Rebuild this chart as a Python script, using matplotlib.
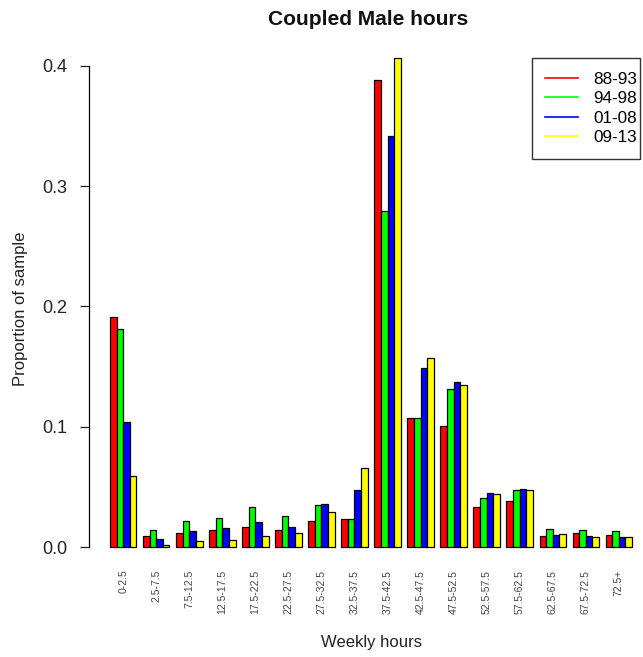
import matplotlib
matplotlib.use("Agg")
import matplotlib.pyplot as plt
from matplotlib.lines import Line2D
from matplotlib.patches import Rectangle
import numpy as np

plt.rcParams['font.family'] = ['Liberation Sans', 'DejaVu Sans']

categories = ["0-2.5", "2.5-7.5", "7.5-12.5", "12.5-17.5", "17.5-22.5",
              "22.5-27.5", "27.5-32.5", "32.5-37.5", "37.5-42.5", "42.5-47.5",
              "47.5-52.5", "52.5-57.5", "57.5-62.5", "62.5-67.5", "67.5-72.5",
              "72.5+"]

series_names = ["88-93", "94-98", "01-08", "09-13"]

p_88_93 = [0.191, 0.009, 0.012, 0.014, 0.017, 0.014, 0.022, 0.023,
           0.388, 0.107, 0.101, 0.033, 0.038, 0.009, 0.012, 0.010]
p_94_98 = [0.181, 0.014, 0.022, 0.024, 0.033, 0.026, 0.035, 0.023,
           0.279, 0.107, 0.131, 0.041, 0.047, 0.015, 0.014, 0.013]
p_01_08 = [0.104, 0.007, 0.013, 0.016, 0.021, 0.017, 0.036, 0.047,
           0.342, 0.149, 0.137, 0.045, 0.048, 0.010, 0.009, 0.008]
p_09_13 = [0.059, 0.002, 0.005, 0.006, 0.009, 0.012, 0.029, 0.066,
           0.407, 0.157, 0.135, 0.044, 0.047, 0.011, 0.008, 0.008]

series = [p_88_93, p_94_98, p_01_08, p_09_13]
colors = ["#FF0000", "#00FF00", "#0000FF", "#FFFF00"]

W, H = 643, 657
fig = plt.figure(figsize=(W / 100, H / 100), dpi=100)
ax = fig.add_axes([0.1386, 0.1376, 0.8768, 0.8046])

n_groups = len(categories)
n_series = len(series)
group_step = n_series + 1  # one empty bar-width between groups

for j, (vals, col) in enumerate(zip(series, colors)):
    lefts = 1 + np.arange(n_groups) * group_step + j
    ax.bar(lefts, vals, width=1.0, align='edge', color=col,
           edgecolor='black', linewidth=0.9)

# axis ranges with 4% padding around the bars
x_lo, x_hi = 1, n_groups * group_step
xr = x_hi - x_lo
ax.set_xlim(x_lo - 0.04 * xr, x_hi + 0.04 * xr)
ymax = max(max(s) for s in series)
ax.set_ylim(-0.04 * ymax, ymax * 1.04)

for side in ["top", "right", "bottom"]:
    ax.spines[side].set_visible(False)
ax.spines["left"].set_bounds(0, 0.4)
ax.spines["left"].set_linewidth(0.9)

ax.set_yticks([0.0, 0.1, 0.2, 0.3, 0.4])
ax.set_yticklabels(["0.0", "0.1", "0.2", "0.3", "0.4"])
ax.tick_params(axis='y', length=6.3, width=0.9, pad=9.5, labelsize=13,
               colors='#222222')

centers = 1 + np.arange(n_groups) * group_step + n_series / 2
ax.set_xticks(centers)
ax.set_xticklabels(categories, rotation=90, fontsize=7.5, color='#444444',
                   va='top', ha='center')
ax.tick_params(axis='x', length=0, pad=2.2)

ax.set_ylabel("Proportion of sample", fontsize=12, color='#222222',
              va='center')
ax.yaxis.set_label_coords(-0.122, 0.487)
ax.set_xlabel("Weekly hours", fontsize=12, color='#222222', va='center')
ax.xaxis.set_label_coords(0.5, -0.1445)

fig.text(0.572, 0.971, "Coupled Male hours", ha='center', va='center',
         fontsize=15, fontweight='bold', color='#111111')

# legend: entries without frame, box drawn separately
handles = [Line2D([0], [0], color=c, lw=1.2) for c in colors]
leg = fig.legend(handles, series_names, loc='upper left',
                 bbox_to_anchor=(545 / W, 1 - 72 / H),
                 bbox_transform=fig.transFigure, borderaxespad=0,
                 borderpad=0, fontsize=12.3, frameon=False,
                 handlelength=1.93, handletextpad=0.88, labelspacing=0.25)
fig.patches.append(Rectangle((532 / W, 1 - 159 / H), 108 / W, 101 / H,
                             transform=fig.transFigure, fill=False,
                             edgecolor='#333333', linewidth=1.0))

fig.savefig("out.png", dpi=100, facecolor='white')
